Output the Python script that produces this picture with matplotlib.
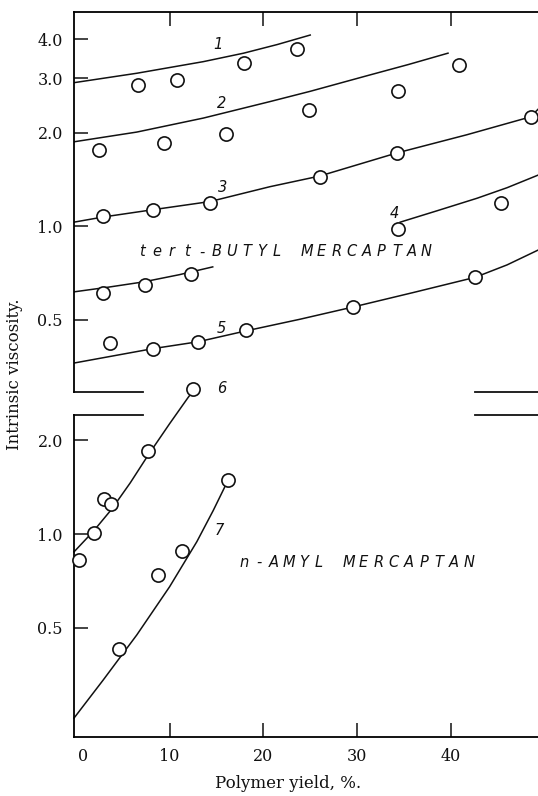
import matplotlib
matplotlib.use('Agg')
import matplotlib.pyplot as plt
import matplotlib.transforms as mtransforms
from matplotlib.ticker import FixedLocator, NullLocator, FixedFormatter

############## data ############################################################
# tert-butyl mercaptan (upper panel)
c1_x = [6.65, 10.8, 17.9, 23.6]
c1_y = [2.85, 2.96, 3.35, 3.72]
c1_line_x = [-0.2, 6.5, 13.6, 17.9, 21.5, 25.0]
c1_line_y = [2.90, 3.11, 3.39, 3.61, 3.85, 4.13]

c2_x = [2.45, 9.4, 16.0, 24.9, 34.4, 40.9]
c2_y = [1.76, 1.85, 1.98, 2.37, 2.73, 3.31]
c2_line_x = [-0.2, 6.5, 13.6, 20.7, 25.0, 31.0, 35.5, 39.7]
c2_line_y = [1.87, 2.01, 2.23, 2.52, 2.72, 3.05, 3.32, 3.61]

c3_x = [2.9, 8.25, 14.3, 26.0, 34.3, 48.5]
c3_y = [1.08, 1.13, 1.19, 1.44, 1.72, 2.25]
c3_line_x = [-0.2, 2.9, 8.25, 14.3, 20.7, 26.0, 34.2, 41.7, 48.5, 49.3]
c3_line_y = [1.03, 1.07, 1.13, 1.20, 1.34, 1.45, 1.72, 1.97, 2.25, 2.38]

c4_x = [34.4, 45.4]
c4_y = [0.98, 1.19]
c4_line_x = [34.6, 38.5, 42.8, 46.0, 49.3]
c4_line_y = [1.03, 1.12, 1.23, 1.33, 1.46]

c3a_x = [2.9, 7.4, 12.3]
c3a_y = [0.609, 0.648, 0.703]
c3a_line_x = [-0.2, 3.5, 7.2, 11.0, 14.6]
c3a_line_y = [0.614, 0.636, 0.661, 0.697, 0.739]

c5_x = [3.6, 8.25, 13.05, 18.2, 29.6, 42.6]
c5_y = [0.42, 0.403, 0.424, 0.462, 0.549, 0.684]
c5_line_x = [-0.2, 8.25, 13.05, 18.2, 23.9, 29.6, 36.0, 42.6, 46.0, 49.3]
c5_line_y = [0.362, 0.403, 0.424, 0.460, 0.501, 0.549, 0.611, 0.684, 0.750, 0.837]

# n-amyl mercaptan (lower panel)
c6_x = [0.35, 1.9, 3.0, 3.8, 7.65, 12.45]
c6_y = [0.825, 1.01, 1.30, 1.25, 1.85, 2.91]
c6_line_x = [-0.2, 1.85, 3.8, 5.8, 7.7, 10.0, 12.0, 12.45]
c6_line_y = [0.877, 1.02, 1.20, 1.46, 1.79, 2.26, 2.75, 2.86]

c7_x = [4.6, 8.8, 11.35, 16.2]
c7_y = [0.427, 0.739, 0.882, 1.49]
c7_line_x = [-0.2, 2.9, 6.5, 10.0, 12.9, 14.65, 16.0]
c7_line_y = [0.257, 0.340, 0.475, 0.678, 0.945, 1.19, 1.44]

x_ticks = [0, 10, 20, 30, 40]
top_yticks = [0.5, 1.0, 2.0, 3.0, 4.0]
top_yticklabels = ['0.5', '1.0', '2.0', '3.0', '4.0']
top_right_ticks = [1.0, 2.0, 3.0, 4.0]
bot_yticks = [0.5, 1.0, 2.0]
bot_yticklabels = ['0.5', '1.0', '2.0']
bot_right_ticks = [1.0, 2.0]
################################################################################

serif = 'DejaVu Serif'
ink = '#111111'
lw = 1.1
ms = 9.5

fig = plt.figure(figsize=(5.38, 7.96), dpi=100)
ax_top = fig.add_axes([74/538, 1 - 392/796, 464/538, 380/796])
ax_bot = fig.add_axes([74/538, 1 - 737/796, 464/538, 322/796])

xlim = (-0.2, 49.3)
cut_left, cut_right = 7.2, 42.6


def style_axis(ax, yticks, ylabels, right_ticks, ylim):
    ax.set_xlim(*xlim)
    ax.set_yscale('log')
    ax.set_ylim(*ylim)
    ax.yaxis.set_major_locator(FixedLocator(yticks))
    ax.yaxis.set_major_formatter(FixedFormatter(ylabels))
    ax.yaxis.set_minor_locator(NullLocator())
    ax.tick_params(axis='y', direction='in', length=10, width=1.1,
                   pad=8, labelsize=11.5, colors=ink)
    for lab in ax.get_yticklabels():
        lab.set_family(serif)
    ax.spines['right'].set_visible(False)
    ax.spines['left'].set_linewidth(1.3)
    # right hand ticks (only some of them)
    ax2 = ax.twinx()
    ax2.set_yscale('log')
    ax2.set_ylim(*ylim)
    ax2.yaxis.set_major_locator(FixedLocator(right_ticks))
    ax2.yaxis.set_minor_locator(NullLocator())
    ax2.tick_params(axis='y', direction='in', length=5, width=1.1,
                    labelright=False, colors=ink)
    for s in ax2.spines.values():
        s.set_visible(False)
    ax2.set_zorder(-1)


style_axis(ax_top, top_yticks, top_yticklabels, top_right_ticks, (0.292, 4.90))
style_axis(ax_bot, bot_yticks, bot_yticklabels, bot_right_ticks, (0.2235, 2.41))

# broken axis: hide the facing spines and draw only their ends
ax_top.spines['bottom'].set_visible(False)
ax_bot.spines['top'].set_visible(False)
for ax, yy in ((ax_top, 0), (ax_bot, 1)):
    tr = ax.get_xaxis_transform()
    ax.plot([xlim[0], cut_left], [yy, yy], color=ink, lw=1.3, transform=tr, clip_on=False)
    ax.plot([cut_right, xlim[1]], [yy, yy], color=ink, lw=1.3, transform=tr, clip_on=False)

# x ticks
ax_top.spines['top'].set_linewidth(1.3)
ax_top.xaxis.set_major_locator(FixedLocator(x_ticks[1:]))
ax_top.tick_params(axis='x', direction='in', length=10, width=1.1,
                   bottom=False, top=True, labelbottom=False, colors=ink)
ax_bot.spines['bottom'].set_linewidth(1.3)
ax_bot.set_xticks(x_ticks)
ax_bot.set_xticklabels([str(v) for v in x_ticks], family=serif, fontsize=11.5)
ax_bot.tick_params(axis='x', direction='in', length=10, width=1.1, pad=8,
                   colors=ink)
# no tick mark at zero, and its label sits a little to the right
t0 = ax_bot.xaxis.get_major_ticks()[0]
t0.tick1line.set_visible(False)
t0.label1.set_transform(t0.label1.get_transform() +
                        mtransforms.ScaledTranslation(0.07, 0, fig.dpi_scale_trans))

############## curves and points ###############################################
mk = dict(marker='o', ls='none', ms=ms, mfc='white', mec=ink, mew=1.2, zorder=3)
top_sets = [(c1_line_x, c1_line_y, c1_x, c1_y),
            (c2_line_x, c2_line_y, c2_x, c2_y),
            (c3_line_x, c3_line_y, c3_x, c3_y),
            (c4_line_x, c4_line_y, c4_x, c4_y),
            (c3a_line_x, c3a_line_y, c3a_x, c3a_y),
            (c5_line_x, c5_line_y, c5_x, c5_y)]
for lx, ly, px, py in top_sets:
    ax_top.plot(lx, ly, color=ink, lw=lw, zorder=2, solid_joinstyle='round')
    ax_top.plot(px, py, **mk)

for lx, ly, px, py in [(c6_line_x, c6_line_y, c6_x, c6_y),
                       (c7_line_x, c7_line_y, c7_x, c7_y)]:
    ax_bot.plot(lx, ly, color=ink, lw=lw, zorder=2, clip_on=False,
                solid_joinstyle='round')
    ax_bot.plot(px, py, clip_on=False, **mk)

############## hand lettering ##################################################
letter = dict(fontsize=10.5, style='italic', family='DejaVu Sans', color=ink,
              ha='center', va='center')
for ax, (x, y, s) in [(ax_top, (15.2, 3.86, '1')), (ax_top, (15.5, 2.49, '2')),
                      (ax_top, (15.7, 1.33, '3')), (ax_top, (34.0, 1.10, '4')),
                      (ax_top, (15.5, 0.468, '5')), (ax_bot, (15.55, 2.93, '6')),
                      (ax_bot, (15.3, 1.03, '7'))]:
    ax.text(x, y, s, **letter)


def spaced(ax, x, y, s, step=10.8):
    for i, ch in enumerate(s):
        ax.annotate(ch, xy=(x, y), xytext=(i * step, 0),
                    textcoords='offset points', **letter)


spaced(ax_top, 7.0, 0.826, 'tert-BUTYL MERCAPTAN')
spaced(ax_bot, 17.9, 0.81, 'n-AMYL MERCAPTAN')

fig.text(15/538, 1 - 374/796, 'Intrinsic viscosity.', rotation=90,
         ha='center', va='center', family=serif, fontsize=12, color=ink)
fig.text(288/538, 1 - 783/796, 'Polymer yield, %.', ha='center', va='center',
         family=serif, fontsize=12, color=ink)

plt.savefig('out.png', dpi=100)
